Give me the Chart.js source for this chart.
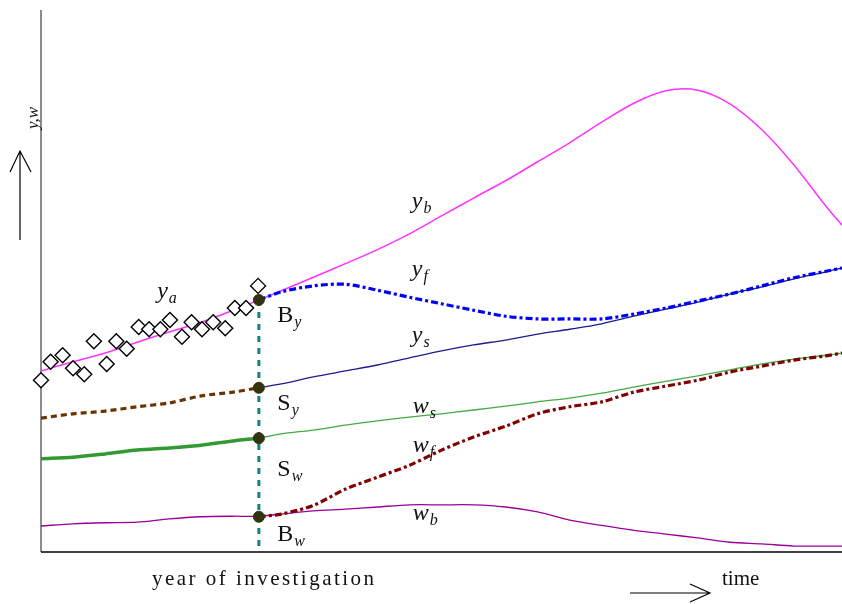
<!DOCTYPE html>
<html>
<head>
<meta charset="utf-8">
<script src="https://cdn.jsdelivr.net/npm/chart.js@4.4.1/dist/chart.umd.min.js"></script>
<style>
  html, body { margin: 0; padding: 0; background: #fff; }
  #wrap { width: 842px; height: 604px; position: relative; }
</style>
</head>
<body>
<div id="wrap"><canvas id="chart"></canvas></div>
<script>
// time grid (0..100), year of investigation at 27.2
const times = [0, 4, 8, 12, 16, 20, 24, 27.2, 30, 34, 38, 42, 46, 50, 54, 58, 62, 66, 70, 74, 78, 82, 86, 90, 94, 98, 100];
const investigation = 27.2;

// y_b : magenta, whole period
const yb = [33.4, 35.1, 36.7, 38.7, 40.6, 42.4, 44.6, 46.5, 48.2, 50.7, 53.2, 55.8, 58.7, 62.0, 65.3, 68.5, 72.0, 75.5, 79.3, 82.8, 85.1, 85.2, 82.7, 77.9, 71.4, 63.8, 60.3];
// y_f : blue dashed, after investigation
const yf = [null, null, null, null, null, null, null, 46.5, 48.0, 49.1, 49.4, 48.3, 47.0, 45.8, 44.6, 43.5, 43.0, 43.0, 43.0, 43.9, 45.0, 46.3, 47.6, 49.1, 50.6, 51.8, 52.4];
// y_s : brown dashed before, navy after
const ysBefore = [24.7, 25.5, 26.0, 26.8, 27.5, 28.8, 29.5, 30.3];
const ysAfter = [null, null, null, null, null, null, null, 30.3, 31.0, 32.3, 33.4, 34.5, 35.8, 37.1, 38.2, 39.1, 40.2, 41.1, 42.1, 43.5, 44.8, 46.1, 47.6, 48.9, 50.4, 51.7, 52.4];
// w_s : thick green before, thin green after
const wsBefore = [17.2, 17.5, 18.1, 18.8, 19.2, 19.7, 20.5, 21.0];
const wsAfter = [null, null, null, null, null, null, null, 21.0, 21.8, 22.5, 23.4, 24.2, 24.9, 25.5, 26.2, 26.9, 27.7, 28.4, 29.3, 30.4, 31.5, 32.5, 33.6, 34.7, 35.6, 36.3, 36.7];
// w_f : dark red dashed, after investigation
const wf = [null, null, null, null, null, null, null, 6.5, 7.0, 8.6, 11.6, 13.8, 16.0, 18.8, 21.2, 23.2, 25.5, 26.8, 27.7, 29.5, 30.6, 31.7, 33.2, 34.3, 35.4, 36.2, 36.7];
// w_b : purple, whole period
const wb = [4.8, 5.2, 5.4, 5.5, 6.1, 6.5, 6.6, 6.6, 7.0, 7.6, 7.9, 8.3, 8.7, 8.7, 8.7, 8.3, 7.4, 5.9, 4.9, 4.0, 3.3, 2.6, 1.8, 1.5, 1.1, 1.1, 1.1];

// y_a : observations (diamonds)
const yaT = [0, 1.2, 2.7, 4.0, 5.4, 6.6, 8.2, 9.4, 10.7, 12.2, 13.5, 14.9, 16.1, 17.6, 18.8, 20.1, 21.5, 23.0, 24.2, 25.6, 27.1];
const yaV = [31.7, 35.1, 36.3, 33.9, 32.8, 38.9, 34.7, 38.9, 37.5, 41.5, 41.1, 41.1, 42.8, 39.7, 42.4, 41.1, 42.4, 41.3, 45.0, 45.0, 49.1];

// values at the year of investigation: B_y, S_y, S_w, B_w
const markV = [46.5, 30.3, 21.0, 6.5];

// curve labels [main, subscript, italic main, t, v]
const labels = [
  ['y', 'b', true, 46.3, 63.5],
  ['y', 'f', true, 46.3, 50.9],
  ['y', 's', true, 46.3, 38.7],
  ['w', 's', true, 46.4, 25.6],
  ['w', 'f', true, 46.4, 18.5],
  ['w', 'b', true, 46.4, 5.9],
  ['y', 'a', true, 14.5, 46.9],
  ['B', 'y', false, 29.5, 42.4],
  ['S', 'y', false, 29.5, 26.2],
  ['S', 'w', false, 29.5, 14.0],
  ['B', 'w', false, 29.5, 2.0]
];

function pts(arr) {
  const out = [];
  arr.forEach((v, i) => { if (v !== null) out.push({ x: times[i], y: v }); });
  return out;
}

const SERIF = '"Liberation Serif", "Times New Roman", serif';

const annot = {
  id: 'annot',
  beforeDatasetsDraw(chart) {
    const { ctx, chartArea: a } = chart;
    ctx.save();
    ctx.lineWidth = 1.5;
    ctx.strokeStyle = '#666';
    ctx.beginPath();
    ctx.moveTo(a.left, a.top);
    ctx.lineTo(a.left, a.bottom);
    ctx.stroke();
    ctx.strokeStyle = '#000';
    ctx.beginPath();
    ctx.moveTo(a.left, a.bottom);
    ctx.lineTo(a.right, a.bottom);
    ctx.stroke();
    ctx.restore();
  },
  afterDatasetsDraw(chart) {
    const { ctx, scales: { x, y } } = chart;
    ctx.save();
    ctx.fillStyle = '#111';
    ctx.textBaseline = 'alphabetic';
    labels.forEach(([main, sub, ital, t, v]) => {
      const px = x.getPixelForValue(t);
      const py = y.getPixelForValue(v);
      ctx.font = (ital ? 'italic ' : '') + '24px ' + SERIF;
      ctx.fillText(main, px, py);
      const w = ctx.measureText(main).width;
      ctx.font = 'italic 16px ' + SERIF;
      ctx.fillText(sub, px + w + 1, py + 5);
    });

    // axis captions
    ctx.font = 'italic 17px ' + SERIF;
    ctx.save();
    ctx.translate(38, 118);
    ctx.rotate(-Math.PI / 2);
    ctx.textAlign = 'center';
    ctx.fillText('y,w', 0, 0);
    ctx.restore();

    ctx.font = '21px ' + SERIF;
    const cap = 'year of investigation';
    const w0 = ctx.measureText(cap).width;
    ctx.letterSpacing = ((222 - w0) / (cap.length - 1)).toFixed(2) + 'px';
    ctx.fillText(cap, 152, 585);
    ctx.letterSpacing = '0px';
    ctx.fillText('time', 722, 585);

    // arrows
    ctx.strokeStyle = '#000';
    ctx.lineWidth = 1.2;
    ctx.beginPath();
    ctx.moveTo(20, 240); ctx.lineTo(20, 151);
    ctx.moveTo(10, 172); ctx.lineTo(20, 151); ctx.lineTo(31, 172);
    ctx.moveTo(630, 593); ctx.lineTo(710, 593);
    ctx.moveTo(690, 584); ctx.lineTo(710, 593); ctx.lineTo(690, 602);
    ctx.stroke();
    ctx.restore();
  }
};

const line = (data, color, width, dash) => ({
  data: pts(data), borderColor: color, borderWidth: width, borderDash: dash || [],
  pointRadius: 0, tension: 0.3, fill: false
});

new Chart(document.getElementById('chart'), {
  type: 'line',
  data: {
    datasets: [
      { data: markV.map(v => ({ x: investigation, y: v })), showLine: false,
        pointRadius: 5.5, pointBackgroundColor: '#333310', pointBorderColor: '#333310', clip: false },
      { data: yaT.map((t, i) => ({ x: t, y: yaV[i] })), showLine: false, pointStyle: 'rectRot',
        pointRadius: 7.5, pointBorderWidth: 1.4, pointBorderColor: '#000', pointBackgroundColor: '#fff', clip: false },
      { data: [{ x: investigation, y: markV[0] }, { x: investigation, y: 0 }], borderColor: '#138080',
        borderWidth: 3, borderDash: [6, 6], pointRadius: 0 },
      line(yf, '#0000ff', 3.2, [7, 3, 3, 3]),
      line(wf, '#800000', 3.2, [7, 3, 3, 3]),
      line(ysBefore, '#6b3300', 3.2, [6, 4]),
      line(wsBefore, '#339933', 3.5),
      line(yb, '#ff33ff', 1.5),
      line(ysAfter, '#1c1c8c', 1.3),
      line(wsAfter, '#44aa44', 1.3),
      line(wb, '#990099', 1.3)
    ]
  },
  options: {
    responsive: true,
    maintainAspectRatio: false,
    animation: false,
    layout: { autoPadding: false, padding: { left: 41, right: 0, top: 10, bottom: 52 } },
    plugins: { legend: { display: false }, tooltip: { enabled: false } },
    scales: {
      x: { type: 'linear', min: 0, max: 100, display: false },
      y: { type: 'linear', min: 0, max: 100, display: false }
    }
  },
  plugins: [annot]
});
</script>
</body>
</html>
